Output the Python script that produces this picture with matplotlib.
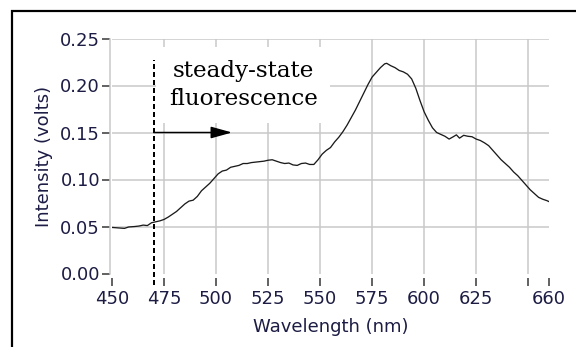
import numpy as np
import matplotlib
matplotlib.use('Agg')
import matplotlib.pyplot as plt
from matplotlib.patches import Rectangle

#spectrum
wavelength = [450, 453, 456, 458, 461, 463, 465, 467, 469, 471, 473, 475, 477, 479, 481, 483, 485, 487, 489, 491,
              493, 495, 497, 499, 501, 503, 505, 507, 509, 511, 513, 515, 517, 519, 521, 523, 525, 527, 529, 531,
              533, 535, 537, 539, 541, 543, 545, 547, 549, 551, 553, 555, 557, 559, 561, 563, 565, 567, 569, 571,
              573, 575, 577, 579, 581, 582, 584, 586, 588, 590, 592, 594, 596, 598, 600, 602, 604, 606, 608, 610,
              612, 614, 615.5, 617, 619, 621, 623, 625, 627, 629, 631, 633, 635, 637, 639, 641, 643, 645, 647, 649,
              651, 653, 655, 657, 659, 660]
intensity = [0.049, 0.0485, 0.048, 0.0495, 0.050, 0.0505, 0.0515, 0.051, 0.054, 0.055, 0.056, 0.0575, 0.060, 0.063,
             0.066, 0.070, 0.074, 0.077, 0.078, 0.082, 0.088, 0.092, 0.096, 0.101, 0.106, 0.109, 0.110, 0.113, 0.114,
             0.115, 0.117, 0.117, 0.118, 0.1185, 0.119, 0.1195, 0.1205, 0.121, 0.1195, 0.118, 0.117, 0.1175, 0.1155,
             0.115, 0.117, 0.1175, 0.116, 0.116, 0.121, 0.127, 0.131, 0.134, 0.140, 0.145, 0.151, 0.158, 0.166, 0.174,
             0.183, 0.192, 0.201, 0.209, 0.214, 0.219, 0.223, 0.2236, 0.221, 0.219, 0.216, 0.2145, 0.212, 0.207,
             0.197, 0.184, 0.172, 0.163, 0.155, 0.150, 0.148, 0.146, 0.143, 0.1455, 0.1475, 0.144, 0.147, 0.146,
             0.1455, 0.143, 0.1415, 0.139, 0.136, 0.131, 0.126, 0.121, 0.117, 0.113, 0.108, 0.104, 0.099, 0.094,
             0.089, 0.085, 0.081, 0.079, 0.0775, 0.0765]

x_ticks = [450, 475, 500, 525, 550, 575, 600, 625, 650, 660]
x_labels = ['450', '475', '500', '525', '550', '575', '600', '625', '', '660']
y_ticks = [0.00, 0.05, 0.10, 0.15, 0.20, 0.25]
y_labels = ['0.00', '0.05', '0.10', '0.15', '0.20', '0.25']
x_grid = [475, 500, 525, 550, 575, 600, 625, 650]
y_grid = [0.05, 0.10, 0.15, 0.20, 0.25]

excitation = 470          #where steady-state starts
arrow_end = 507.7
note = 'steady-state\nfluorescence'

navy = '#1c1c44'
grid_col = '#c8c8c8'

fig = plt.figure(figsize=(8, 347/72), dpi=72)
ax = fig.add_axes([112/576, 1-273.5/347, (549-112)/576, (273.5-38.5)/347])
ax.set_xlim(450, 660)
ax.set_ylim(0, 0.25)

ax.vlines(x_grid, 0, 0.25, colors=grid_col, lw=1.5, zorder=0.5)
ax.hlines(y_grid, 450, 660, colors=grid_col, lw=1.5, zorder=0.5)

ax.plot(wavelength, intensity, color='#1a1a1a', lw=1.3, zorder=3)

#annotation text with white box covering the grid
ax.text(513, 0.2005, note, ha='center', va='center', multialignment='center', family='DejaVu Serif',
        fontsize=23, linespacing=1.35, color='black', zorder=2,
        bbox=dict(boxstyle='square,pad=0.55', fc='white', ec='none'))
ax.plot([excitation, excitation], [-0.012, 0.227], color='black', lw=2, ls=(0, (2.5, 1.5)), clip_on=False, zorder=4)
ax.annotate('', xy=(arrow_end, 0.15), xytext=(excitation, 0.15),
            arrowprops=dict(arrowstyle='-|>,head_length=0.9,head_width=0.25', mutation_scale=20, lw=1.5,
                            color='black', shrinkA=0, shrinkB=0), zorder=4)

ax.set_xticks(x_ticks)
ax.set_xticklabels(x_labels)
ax.set_yticks(y_ticks)
ax.set_yticklabels(y_labels)
for s in ['top', 'right']:
    ax.spines[s].set_visible(False)
ax.spines['bottom'].set_position(('outward', 4))
ax.spines['bottom'].set_visible(False)
ax.spines['left'].set_position(('outward', 2))
ax.spines['left'].set_color(grid_col)
ax.spines['left'].set_linewidth(1.5)
ax.tick_params(axis='x', length=8, width=1.5, color='#333333', pad=4, labelsize=18, labelcolor=navy)
ax.tick_params(axis='y', length=8, width=1.5, color='#333333', pad=2, labelsize=18, labelcolor=navy)
ax.set_xlabel('Wavelength (nm)', fontsize=18, color=navy, labelpad=11)
ax.set_ylabel('Intensity (volts)', fontsize=18, color=navy, labelpad=7)

#black frame round the figure
fig.add_artist(Rectangle((12/576, -0.2), 1.2, 1.2 - 11/347, transform=fig.transFigure, fill=False, lw=2.2, ec='black'))

fig.savefig('out.png', dpi=72)
